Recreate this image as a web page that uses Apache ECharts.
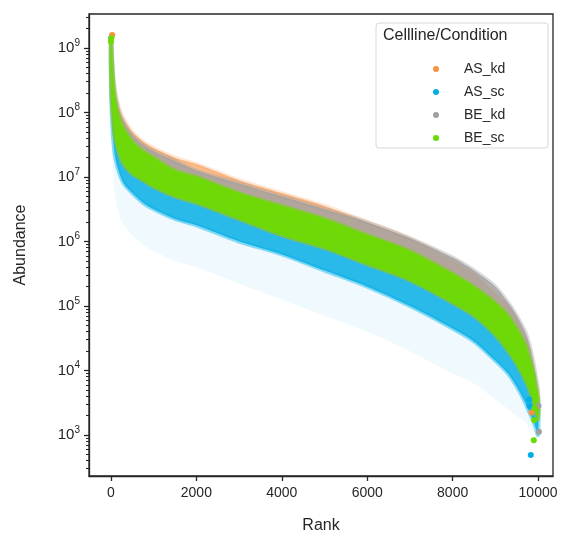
<!DOCTYPE html>
<html><head><meta charset="utf-8">
<script src="https://cdn.jsdelivr.net/npm/echarts@6/dist/echarts.min.js"></script>
<style>html,body{margin:0;padding:0;background:#fff}#c{width:571px;height:554px}</style>
</head><body><div id="c"></div>
<script>
// log10(abundance) bands
const ranks = [0,20,50,100,200,300,500,750,1000,1500,2000,3000,4000,5000,6000,7000,8000,8500,9000,9300,9500,9700,9800,9900,9950,10000];
const greenLo = [8.6,8.2,7.9,7.6,7.35,7.2,7.05,6.95,6.85,6.7,6.6,6.35,6.1,5.9,5.65,5.4,5.05,4.85,4.55,4.3,4.1,3.85,3.7,3.5,3.35,3.25];
const greenHi = [9.15,8.9,8.5,8.2,7.9,7.75,7.55,7.4,7.3,7.1,7.0,6.75,6.55,6.35,6.1,5.85,5.5,5.3,5.05,4.85,4.65,4.4,4.2,3.95,3.75,3.6];
const greyLo  = [8.6,8.2,7.9,7.6,7.35,7.2,7.05,6.95,6.85,6.7,6.6,6.35,6.1,5.9,5.65,5.4,5.05,4.85,4.6,4.35,4.15,3.9,3.75,3.55,3.4,3.3];
const greyHi  = [9.2,8.95,8.6,8.3,8.0,7.85,7.65,7.5,7.4,7.25,7.1,6.9,6.7,6.5,6.3,6.05,5.75,5.55,5.3,5.05,4.85,4.6,4.4,4.1,3.9,3.7];
const orangeLo = [8.6,8.2,7.9,7.6,7.35,7.2,7.05,6.95,6.85,6.7,6.6,6.35,6.1,5.9,5.65,5.4,5.05,4.85,4.55,4.3,4.1,3.85,3.7,3.5,3.35,3.25];
const orangeHi = [9.2,8.95,8.6,8.3,8.05,7.9,7.7,7.55,7.45,7.3,7.2,6.95,6.75,6.55,6.3,6.05,5.7,5.5,5.2,5.0,4.8,4.5,4.3,4.0,3.8,3.6];
const blueLo = [8.4,7.95,7.6,7.3,7.05,6.9,6.75,6.6,6.5,6.35,6.25,6.0,5.8,5.55,5.3,5.0,4.65,4.45,4.15,3.95,3.75,3.5,3.35,3.2,3.1,3.0];
const blueHi = [9.1,8.8,8.4,8.05,7.8,7.6,7.4,7.25,7.15,6.95,6.85,6.6,6.4,6.2,5.95,5.7,5.35,5.15,4.9,4.7,4.5,4.3,4.1,3.85,3.65,3.5];
const blueFaintLo = [8.0,7.4,7.0,6.7,6.4,6.25,6.1,5.95,5.85,5.7,5.6,5.35,5.1,4.85,4.6,4.3,3.95,3.8,3.55,3.4,3.3,3.2,3.1,3.05,3.0,2.95];
// isolated end points [rank, log10 abundance]
const orangePts = [[9850,3.35],[30,9.2]];
const bluePts = [[9830,2.69],[9800,3.45],[9790,3.55]];
const greyPts = [[10020,3.05],[10010,3.45],[0,9.15]];
const greenPts = [[9900,2.92],[9910,3.23],[9920,3.42],[10,9.15],[0,9.1]];
const xTicks = [0,2000,4000,6000,8000,10000];
const yTicks = [3,4,5,6,7,8,9];
const names = ['AS_kd','AS_sc','BE_kd','BE_sc'];
const colors = ['#f9913f','#03aee6','#a0a0a0','#6cdb00'];

const minor = [];
for (let d = 2; d <= 9; d++) for (let k = 2; k <= 9; k++) { const v = d + Math.log10(k); if (v > 2.364 && v < 9.527) minor.push(v); }

function band(lo, hi, color, opacity, z) {
  return {
    type: 'custom', coordinateSystem: 'cartesian2d', silent: true, z: z,
    data: [[0, 0]], legendHoverLink: false,
    renderItem: function (params, api) {
      const pts = [];
      for (let i = 0; i < ranks.length; i++) pts.push(api.coord([ranks[i], hi[i]]));
      for (let i = ranks.length - 1; i >= 0; i--) pts.push(api.coord([ranks[i], lo[i]]));
      return { type: 'polygon', shape: { points: pts, smooth: 0.3 }, style: { fill: color, opacity: opacity, stroke: color, lineWidth: 4, strokeOpacity: opacity * 0.6 } };
    }
  };
}
function pts(name, data, color, z) {
  return { name: name, type: 'scatter', data: data, symbolSize: 6, itemStyle: { color: color, opacity: 1 }, z: z };
}
const chart = echarts.init(document.getElementById('c'), null, { renderer: 'canvas' });
const axisCol = '#262626';
chart.setOption({
  backgroundColor: '#fff',
  animation: false,
  textStyle: { fontFamily: 'Liberation Sans' },
  grid: { left: 89, right: 18, top: 14, bottom: 78, show: true, borderColor: axisCol, borderWidth: 1.3 },
  xAxis: {
    type: 'value', min: -514, max: 10350,
    name: 'Rank', nameLocation: 'middle', nameGap: 42,
    nameTextStyle: { fontSize: 16, color: axisCol },
    axisLine: { show: true, onZero: false, lineStyle: { color: axisCol, width: 1.3 } },
    axisTick: { show: true, length: 5, customValues: xTicks, lineStyle: { color: axisCol, width: 1.3 } },
    axisLabel: { customValues: xTicks, fontSize: 14, color: axisCol, margin: 10, formatter: v => String(v) },
    splitLine: { show: false }
  },
  yAxis: [{
    type: 'value', min: 2.364, max: 9.527,
    name: 'Abundance', nameLocation: 'middle', nameGap: 60,
    nameTextStyle: { fontSize: 16, color: axisCol },
    axisLine: { show: true, onZero: false, lineStyle: { color: axisCol, width: 1.3 } },
    axisTick: { show: true, length: 5, customValues: yTicks, lineStyle: { color: axisCol, width: 1.3 } },
    axisLabel: { customValues: yTicks, color: axisCol, margin: 9,
      formatter: v => '{b|10}{s|' + Math.round(v) + '}',
      rich: { b: { fontSize: 15, color: axisCol }, s: { fontSize: 10, color: axisCol, verticalAlign: 'top', padding: [0, 0, 10, 0] } } },
    splitLine: { show: false }
  }, {
    type: 'value', min: 2.364, max: 9.527, position: 'left', offset: 0,
    axisLine: { show: false, onZero: false },
    axisTick: { show: true, length: 3, customValues: minor, lineStyle: { color: axisCol, width: 1 } },
    axisLabel: { show: false }, splitLine: { show: false }
  }],
  legend: {
    data: names.map((n, i) => ({ name: n, icon: 'circle', itemStyle: { color: colors[i] } })),
    orient: 'vertical', left: 428, top: 57, itemWidth: 6, itemHeight: 6, itemGap: 9, z: 60,
    textStyle: { fontSize: 14, color: axisCol, padding: [0, 0, 0, 20] }
  },
  graphic: [
    { type: 'rect', shape: { x: 376, y: 23, width: 172, height: 125, r: 3 }, style: { fill: 'rgba(255,255,255,0.85)', stroke: '#d8d8d8', lineWidth: 1 }, z: 50 },
    { type: 'text', left: 383, top: 28, style: { text: 'Cellline/Condition', fontSize: 16, fill: axisCol, fontFamily: 'Liberation Sans' }, z: 51 }
  ],
  series: [
    band(blueFaintLo, blueLo, '#03aee6', 0.06, 1),
    band(blueLo, blueHi, '#03aee6', 0.85, 2),
    band(orangeLo, orangeHi, '#f9913f', 0.6, 3),
    band(greyLo, greyHi, '#a0a0a0', 0.8, 4),
    band(greenLo, greenHi, '#6cdb00', 0.95, 5),
    pts('AS_kd', orangePts, colors[0], 6),
    pts('AS_sc', bluePts, colors[1], 6),
    pts('BE_kd', greyPts, colors[2], 6),
    pts('BE_sc', greenPts, colors[3], 7)
  ]
});
</script></body></html>
